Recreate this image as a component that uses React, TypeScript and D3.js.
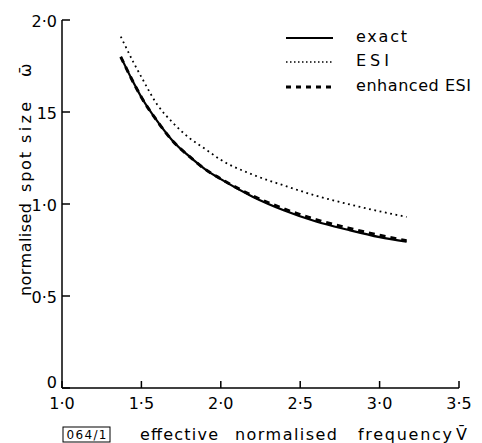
import * as d3 from "d3";

const vValues = [1.37, 1.45, 1.5, 1.6, 1.7, 1.8, 1.9, 2.0, 2.2, 2.4, 2.6, 2.8, 3.0, 3.17];
const exactValues = [1.8, 1.66, 1.58, 1.45, 1.34, 1.26, 1.19, 1.135, 1.04, 0.965, 0.905, 0.86, 0.82, 0.795];
const esiValues = [1.91, 1.77, 1.69, 1.54, 1.44, 1.36, 1.3, 1.24, 1.16, 1.1, 1.045, 1.0, 0.96, 0.93];
const enhancedValues = [1.8, 1.66, 1.58, 1.45, 1.34, 1.26, 1.19, 1.137, 1.045, 0.973, 0.915, 0.87, 0.83, 0.8];

const xTicks = [1.0, 1.5, 2.0, 2.5, 3.0, 3.5];
const xTickLabels = ["1·0", "1·5", "2·0", "2·5", "3·0", "3·5"];
const yTicks = [0, 0.5, 1.0, 1.5, 2.0];
const yTickLabels = ["0", "0·5", "1·0", "15", "2·0"];

const seriesNames = ["exact", "ESI", "enhanced ESI"];

const font = "'DejaVu Sans', sans-serif";

export default function App() {
  const x = d3.scaleLinear().domain([1, 3.5]).range([62, 459]);
  const y = d3.scaleLinear().domain([0, 2]).range([388, 20]);

  const line = (vals: number[]) =>
    d3
      .line<number>()
      .x((_, i) => x(vValues[i]))
      .y((d) => y(d))
      .curve(d3.curveMonotoneX)(vals) as string;

  const styles = [
    { width: 2.2, dash: "none", legendDash: "none", vals: exactValues },
    { width: 1.8, dash: "1.8 3.6", legendDash: "1.5 2.5", vals: esiValues },
    { width: 3, dash: "6 5", legendDash: "5 5", vals: enhancedValues },
  ];
  const legendY = [38, 62, 87];
  const legendLen = [51, 33, 115];

  // word positions of the axis titles
  const xTitle = [
    { t: "effective", x: 140, w: 78 },
    { t: "normalised", x: 235, w: 102 },
    { t: "frequency", x: 358, w: 94 },
    { t: "V̄", x: 456, w: 13 },
  ];
  const yTitle = [
    { t: "normalised", y: 296, w: 93 },
    { t: "spot", y: 192, w: 40 },
    { t: "size", y: 143, w: 41 },
    { t: "ω̄", y: 77, w: 20 },
  ];

  return (
    <svg
      width={482}
      height={443}
      style={{ position: "absolute", left: 0, top: 0, background: "#fff" }}
      fontFamily={font}
    >
      {/* axes */}
      <line x1={x(1)} x2={x(3.5)} y1={y(0)} y2={y(0)} stroke="#000" strokeWidth={1.5} />
      <line x1={x(1)} x2={x(1)} y1={y(0)} y2={y(2)} stroke="#000" strokeWidth={1.5} />
      {xTicks.map((t, i) => (
        <g key={"x" + t}>
          <line x1={x(t)} x2={x(t)} y1={y(0)} y2={y(0) - 7} stroke="#000" strokeWidth={1.5} />
          <text x={x(t)} y={409} fontSize={16} textAnchor="middle">
            {xTickLabels[i]}
          </text>
        </g>
      ))}
      {yTicks.map((t, i) => (
        <g key={"y" + t}>
          <line x1={x(1)} x2={x(1) + 8} y1={y(t)} y2={y(t)} stroke="#000" strokeWidth={1.5} />
          <text x={57} y={t === 0 ? y(t) : y(t) + 7} fontSize={16} textAnchor="end">
            {yTickLabels[i]}
          </text>
        </g>
      ))}

      {/* curves */}
      {styles.map((s, i) => (
        <path
          key={i}
          d={line(s.vals)}
          fill="none"
          stroke="#000"
          strokeWidth={s.width}
          strokeDasharray={s.dash}
        />
      ))}

      {/* legend */}
      {seriesNames.map((name, i) => (
        <g key={name}>
          <line
            x1={286}
            x2={333}
            y1={legendY[i]}
            y2={legendY[i]}
            stroke="#000"
            strokeWidth={i === 1 ? 1.3 : styles[i].width}
            strokeDasharray={styles[i].legendDash}
          />
          <text
            x={356}
            y={legendY[i] + 4}
            fontSize={16}
            textLength={legendLen[i]}
            lengthAdjust="spacing"
          >
            {name}
          </text>
        </g>
      ))}

      {/* y title */}
      {yTitle.map((w) => (
        <text
          key={w.t}
          transform={`translate(31,${w.y}) rotate(-90)`}
          fontSize={16}
          textLength={w.w}
          lengthAdjust="spacing"
        >
          {w.t}
        </text>
      ))}

      {/* x title */}
      <rect x={63} y={427} width={47} height={15} fill="none" stroke="#000" strokeWidth={1} />
      <text x={86.5} y={439} fontSize={12} textAnchor="middle" textLength={40} lengthAdjust="spacing">
        064/1
      </text>
      {xTitle.map((w) => (
        <text
          key={w.t}
          x={w.x}
          y={440}
          fontSize={16}
          textLength={w.w}
          lengthAdjust="spacing"
        >
          {w.t}
        </text>
      ))}
    </svg>
  );
}
